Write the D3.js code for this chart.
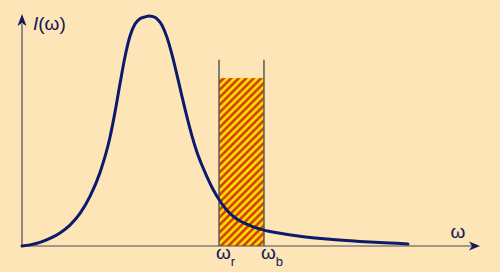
<!DOCTYPE html>
<html><head><meta charset="utf-8">
<script src="https://cdn.jsdelivr.net/npm/d3@7"></script>
<style>html,body{margin:0;padding:0;background:#fde5b8;}svg{display:block;}</style>
</head><body>
<svg id="c" width="500" height="272"></svg>
<script>
// Spectrum curve I(ω), ω in arbitrary units, I normalised to peak = 1
const omega = [0, 0.174, 0.391, 0.609, 0.826, 1.043, 1.261, 1.478, 1.696, 1.913, 2.022, 2.130, 2.239, 2.348, 2.457, 2.565, 2.674, 2.761,
  2.848, 2.935, 3.043, 3.152, 3.261, 3.370, 3.478, 3.587, 3.696, 3.804, 3.913, 4.022, 4.152, 4.283, 4.435, 4.587, 4.848, 5.239, 5.609, 6.043, 6.696, 7.348, 8.0, 8.391];
const intensity = [0, 0.005, 0.016, 0.033, 0.057, 0.091, 0.142, 0.216, 0.320, 0.473, 0.582, 0.705, 0.823, 0.913, 0.965, 0.988, 0.996, 1.0,
  0.997, 0.988, 0.960, 0.907, 0.832, 0.743, 0.650, 0.560, 0.478, 0.408, 0.351, 0.301, 0.247, 0.202, 0.160, 0.130, 0.098, 0.070, 0.055, 0.042, 0.029, 0.020, 0.013, 0.009];
// Band between ω_r and ω_b
const bandEdges = [4.283, 5.26];
const bandLevel = 0.73;
const bandLineTop = 0.81;
const bandLabels = ["r", "b"];
const axisMax = [10, 1.0];

const svg = d3.select("#c");
const x = d3.scaleLinear().domain([0, axisMax[0]]).range([22, 482]);
const y = d3.scaleLinear().domain([0, axisMax[1]]).range([246, 16]);

svg.append("rect").attr("width", 500).attr("height", 272).attr("fill", "#fde5b8");

const defs = svg.append("defs");
const pat = defs.append("pattern").attr("id", "hatch")
  .attr("patternUnits", "userSpaceOnUse").attr("width", 5.3).attr("height", 10)
  .attr("patternTransform", "rotate(45)");
pat.append("rect").attr("width", 5.3).attr("height", 10).attr("fill", "#ffe200");
pat.append("rect").attr("width", 3.0).attr("height", 10).attr("fill", "#ee8a00");
pat.append("rect").attr("x", 0.4).attr("width", 2.2).attr("height", 10).attr("fill", "#d23a0c");

// band
svg.append("rect")
  .attr("x", x(bandEdges[0])).attr("y", y(bandLevel))
  .attr("width", x(bandEdges[1]) - x(bandEdges[0]))
  .attr("height", y(0) - y(bandLevel))
  .attr("fill", "url(#hatch)");
svg.selectAll("line.edge").data(bandEdges).enter().append("line")
  .attr("class", "edge")
  .attr("x1", d => x(d)).attr("x2", d => x(d))
  .attr("y1", y(0)).attr("y2", y(bandLineTop))
  .attr("stroke", "#5a5a5a").attr("stroke-width", 1.5);

// axes
const axisColor = "#4a4a55";
svg.append("line").attr("x1", x(0)).attr("x2", x(axisMax[0]) - 6)
  .attr("y1", y(0)).attr("y2", y(0)).attr("stroke", axisColor).attr("stroke-width", 1.2);
svg.append("line").attr("x1", x(0)).attr("x2", x(0))
  .attr("y1", y(0)).attr("y2", 24).attr("stroke", axisColor).attr("stroke-width", 1.2);
const arrowColor = "#14185a";
svg.append("path")
  .attr("d", `M${x(axisMax[0]) - 2},${y(0)} L${x(axisMax[0]) - 13},${y(0) - 4.5} L${x(axisMax[0]) - 10},${y(0)} L${x(axisMax[0]) - 13},${y(0) + 4.5} Z`)
  .attr("fill", arrowColor);
svg.append("path")
  .attr("d", `M${x(0)},14 L${x(0) - 4.5},26 L${x(0)},23 L${x(0) + 4.5},26 Z`)
  .attr("fill", arrowColor);

// curve
const pts = omega.map((w, i) => [w, intensity[i]]);
svg.append("path").datum(pts)
  .attr("d", d3.line().x(d => x(d[0])).y(d => y(d[1])).curve(d3.curveMonotoneX))
  .attr("fill", "none").attr("stroke", "#0c1a6e").attr("stroke-width", 3)
  .attr("stroke-linecap", "round").attr("stroke-linejoin", "round");

// labels
const txtColor = "#14185a";
const font = "Liberation Sans, Arial, sans-serif";
const yl = svg.append("text").attr("x", 33).attr("y", 30)
  .attr("font-family", font).attr("font-size", 19).attr("fill", txtColor);
yl.append("tspan").attr("font-style", "italic").text("I");
yl.append("tspan").text("(ω)");

svg.append("text").attr("x", 458).attr("y", 238).attr("text-anchor", "middle")
  .attr("font-family", font).attr("font-size", 19).attr("fill", txtColor).text("ω");

bandEdges.forEach((e, i) => {
  const t = svg.append("text").attr("x", x(e) - 3).attr("y", 259)
    .attr("font-family", font).attr("font-size", 19).attr("fill", txtColor);
  t.append("tspan").text("ω");
  t.append("tspan").attr("font-size", 13).attr("dy", 7).text(bandLabels[i]);
});
</script>
</body></html>
